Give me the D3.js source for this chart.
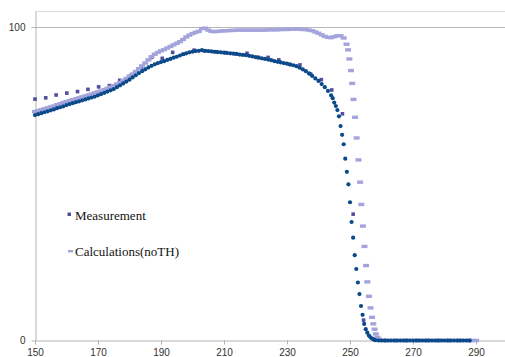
<!DOCTYPE html>
<html><head><meta charset="utf-8">
<script src="https://cdn.jsdelivr.net/npm/d3@7"></script>
<style>html,body{margin:0;padding:0;background:#fff;} svg{display:block;}</style>
</head><body>
<svg id="chart" width="505" height="357"></svg>
<script>
const xTicks = [150,170,190,210,230,250,270,290];
const yTicks = [0,100];
const seriesNames = ["Measurement","Calculations(noTH)"];

// Measurement (sparse squares)
const measX = [150.0,153.4,156.7,160.1,163.5,166.8,170.2,173.6,176.9,180.3,183.7,187.0,190.4,193.7,197.1,200.5,203.8,207.2,210.6,213.9,217.3,220.7,224.0,227.4,230.8,234.1,237.5,240.9,244.2,247.6,251.0,254.3,257.7,261.1,264.4,267.8,271.2,274.5,277.9,281.3,284.6,288.0];
const measY = [77.0,77.4,78.3,78.9,79.4,80.1,80.9,81.3,83.0,84.3,87.0,90.3,90.0,91.9,91.3,92.6,92.4,92.1,91.8,91.4,91.6,90.3,90.3,89.5,88.1,87.9,85.0,83.2,79.9,72.3,40.3,6.5,0.5,0,0,0,0,0,0,0,0,0];

// Calculations(noTH) (dashes)
const calcX = [150,151,152,153,154,155,156,157,158,159,160,161,162,163,164,165,166,167,168,169,170,171,172,173,174,175,176,177,178,179,180,181,182,183,184,185,186,187,188,189,190,191,192,193,194,195,196,197,198,199,200,201,202,203,204,205,206,207,208,209,210,211,212,213,214,215,216,217,218,219,220,221,222,223,224,225,226,227,228,229,230,231,232,233,234,235,236,237,238,239,240,241,242,243,244,245,246,247,248,
248.9,249.4,249.8,250.3,250.7,251.1,251.6,252.1,252.7,253.2,253.6,254.1,254.6,255.1,255.5,256.0,256.5,257.0,257.4,257.8,258.2,258.7,259.2,
260,261,262,263,264,265,266,267,268,269,270,271,272,273,274,275,276,277,278,279,280,281,282,283,284,285,286,287,288,289,290];
const calcY = [73.0,73.3,73.6,73.9,74.2,74.5,74.8,75.2,75.5,75.9,
76.2,76.5,76.8,77.1,77.4,77.7,78.0,78.3,78.6,79.0,
79.3,79.6,80.0,80.4,80.8,81.3,81.8,82.3,82.9,83.6,
84.3,85.0,85.8,86.7,87.6,88.5,89.5,90.5,91.3,91.9,
92.4,92.8,93.3,93.8,94.3,94.8,95.3,96.0,96.8,97.4,
97.9,98.3,98.6,99.5,99.6,99.0,98.6,98.5,98.6,98.7,
98.8,98.8,98.9,98.9,99.0,99.0,99.0,99.0,99.0,99.0,
99.0,99.0,99.0,99.0,99.1,99.1,99.1,99.1,99.2,99.2,
99.2,99.3,99.3,99.3,99.3,99.2,99.2,99.0,98.8,98.4,
98.0,97.5,97.0,96.7,96.6,96.9,97.2,97.2,96.5,
94.5,92.7,89.8,86.1,82.0,76.9,71.2,64.6,57.6,50.5,43.4,36.5,30.0,23.9,18.7,14.1,10.4,7.4,5.3,3.6,2.1,1.0,0.4,
0,0,0,0,0,0,0,0,0,0,0,0,0,0,0,0,0,0,0,0,0,0,0,0,0,0,0,0,0,0,0];

// Unlabelled dense series (dark dots)
const fitX = [150,151,152,153,154,155,156,157,158,159,160,161,162,163,164,165,166,167,168,169,170,171,172,173,174,175,176,177,178,179,180,181,182,183,184,185,186,187,188,189,190,191,192,193,194,195,196,197,198,199,200,201,202,203,204,205,206,207,208,209,210,211,212,213,214,215,216,217,218,219,220,221,222,223,224,225,226,227,228,229,230,231,232,233,234,235,236,237,238,239,240,241,242,243,244,
244.5,245,245.5,246,246.5,247,247.5,248,248.5,249,249.5,250,250.5,251,251.5,252,252.5,253,253.5,254,254.5,255,255.5,256,256.5,257,257.5,258,
259,260,261,262,263,264,265,266,267,268,269,270,271,272,273,274,275,276,277,278,279,280,281,282,283,284,285,286,287,288];
const fitY = [71.9,72.2,72.5,72.8,73.1,73.4,73.7,74.1,74.4,74.7,
75.1,75.4,75.7,76.0,76.3,76.6,76.9,77.2,77.5,77.8,
78.2,78.6,79.0,79.4,79.8,80.2,80.8,81.4,82.0,82.6,
83.2,83.9,84.6,85.3,85.9,86.5,87.1,87.6,88.1,88.5,
88.8,89.1,89.5,89.8,90.2,90.5,90.9,91.3,91.6,91.9,
92.1,92.3,92.4,92.6,92.4,92.3,92.2,92.1,92.0,91.9,
91.8,91.7,91.6,91.5,91.4,91.2,91.1,91.0,90.8,90.6,
90.4,90.2,90.0,89.8,89.6,89.4,89.1,88.9,88.7,88.5,
88.3,88.0,87.8,87.5,87.0,86.5,85.9,85.2,84.4,83.6,
82.8,81.8,80.8,79.6,78.2,
77.3,75.9,74.8,73.5,71.5,68.4,65.6,62.6,58.0,53.8,49.8,44.1,37.8,32.8,27.2,22.8,18.5,14.8,11.0,8.2,5.3,3.6,2.5,1.6,1.0,0.6,0.3,0.1,
0,0,0,0,0,0,0,0,0,0,0,0,0,0,0,0,0,0,0,0,0,0,0,0,0,0,0,0,0,0];

const colMeas = "#4f4f9f", colCalc = "#a4a4dc", colFit = "#0b4a8a";

const svg = d3.select("#chart");
const x = d3.scaleLinear().domain([150, 300]).range([35, 507.5]);
const y = d3.scaleLinear().domain([0, 105]).range([340.5, 11.3]);

// top border and gridline
svg.append("line").attr("x1", 35).attr("x2", 505)
  .attr("y1", Math.round(y(105)) + 0.5).attr("y2", Math.round(y(105)) + 0.5)
  .attr("stroke", "#dcdcdc").attr("stroke-width", 1);
svg.selectAll("line.grid").data(yTicks.filter(d => d > 0)).enter().append("line")
  .attr("class", "grid").attr("x1", 35).attr("x2", 505)
  .attr("y1", d => Math.round(y(d)) + 0.5).attr("y2", d => Math.round(y(d)) + 0.5)
  .attr("stroke", "#b8b8b8").attr("stroke-width", 1);

// axes
const gx = svg.append("g").attr("transform", "translate(0,340.5)")
  .call(d3.axisBottom(x).tickValues(xTicks).tickSize(4).tickSizeOuter(0).tickPadding(4));
const gy = svg.append("g").attr("transform", "translate(35.5,0)")
  .call(d3.axisLeft(y).tickValues(yTicks).tickSize(4).tickSizeOuter(0).tickPadding(6));
[gx, gy].forEach(g => {
  g.select(".domain").attr("stroke", "#b3b3b3");
  g.selectAll(".tick line").attr("stroke", "#b3b3b3");
  g.selectAll(".tick text").attr("fill", "#333").attr("font-family", "Liberation Sans, Arial, sans-serif").attr("font-size", 10);
});
gx.selectAll(".tick").attr("transform", d => `translate(${Math.round(x(d)) + 0.5},0)`);

// Measurement squares
const ms = 3.6;
svg.append("g").selectAll("rect").data(measX.map((d, i) => [d, measY[i]])).enter().append("rect")
  .attr("x", d => x(d[0]) - ms / 2).attr("y", d => y(d[1]) - ms / 2)
  .attr("width", ms).attr("height", ms).attr("fill", colMeas);

// Calculation dashes
const dw = 6, dh = 3.4;
svg.append("g").selectAll("rect").data(calcX.map((d, i) => [d, calcY[i]])).enter().append("rect")
  .attr("x", d => x(d[0]) - dw / 2).attr("y", d => y(d[1]) - dh / 2)
  .attr("width", dw).attr("height", dh).attr("fill", colCalc);

// Dark dots
svg.append("g").selectAll("circle").data(fitX.map((d, i) => [d, fitY[i]])).enter().append("circle")
  .attr("cx", d => x(d[0])).attr("cy", d => y(d[1])).attr("r", 2.1).attr("fill", colFit);

// Legend
const lg = svg.append("g");
lg.append("rect").attr("x", 67.5).attr("y", 212.5).attr("width", 3.5).attr("height", 3.5).attr("fill", colMeas);
lg.append("rect").attr("x", 68).attr("y", 250).attr("width", 5).attr("height", 2.4).attr("fill", colCalc);
lg.selectAll("text").data(seriesNames).enter().append("text")
  .attr("x", 75).attr("y", (d, i) => i === 0 ? 220 : 256)
  .attr("font-family", "Liberation Serif, Times New Roman, serif").attr("font-size", 13)
  .attr("fill", "#111").text(d => d);
</script>
</body></html>
